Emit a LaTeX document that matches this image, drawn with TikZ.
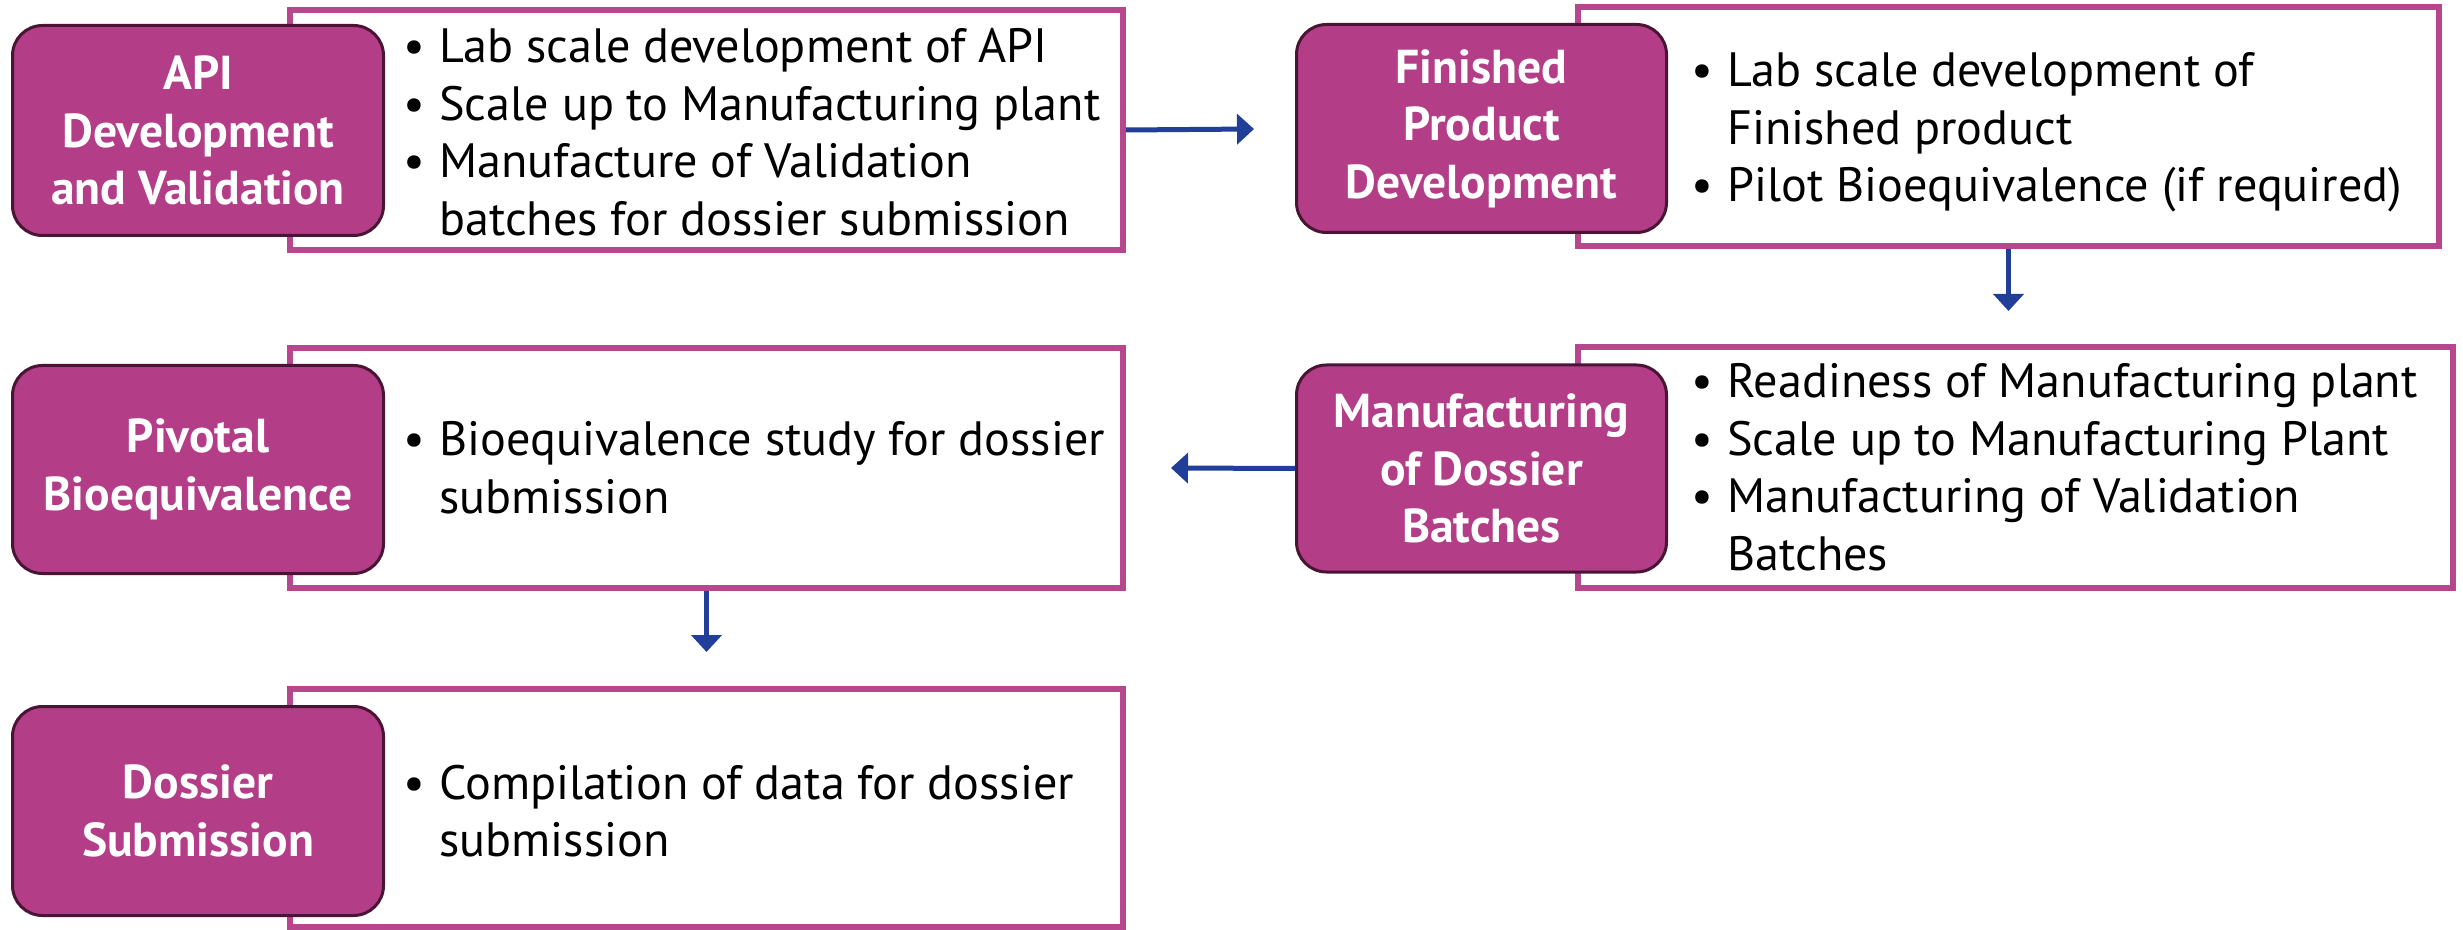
\documentclass[tikz,border=0pt]{standalone}
\usepackage{fontspec}
\setmainfont{PT Sans}
\usetikzlibrary{arrows.meta}
\definecolor{pfill}{HTML}{B33D86}
\definecolor{pborder}{HTML}{4A1535}
\definecolor{wborder}{HTML}{B8468C}
\definecolor{arrowblue}{HTML}{213F99}
\newcommand\bitem[1]{\makebox[18pt][l]{\textbullet}#1\par}
\newcommand\bcont[1]{\hspace*{18pt}#1\par}
\tikzset{
 wbox/.style={draw=wborder, line width=3pt, fill=white, rectangle, inner sep=0pt},
 pbox/.style={draw=pborder, line width=1.5pt, fill=pfill, rounded corners=15pt, inner sep=0pt, text=white, font=\bfseries\fontsize{23.8}{28.75}\selectfont, align=center},
 btext/.style={anchor=base west, inner sep=0pt, font=\fontsize{24.1}{28.75}\selectfont},
 flow/.style={draw=arrowblue, line width=2.5pt, -{Triangle[length=8.5pt,width=15pt]}}
}
\begin{document}
\begin{tikzpicture}[x=0.5pt,y=-0.5pt]
\useasboundingbox (0,0) rectangle (2463,930);
% white boxes
\node[wbox, minimum width=416.5pt, minimum height=120pt] (w1) at (706.5,130) {};
\node[wbox, minimum width=430.5pt, minimum height=119.5pt] (w2) at (2008.5,126.5) {};
\node[wbox, minimum width=437.5pt, minimum height=120.5pt] (w3) at (2015.5,467.5) {};
\node[wbox, minimum width=416.5pt, minimum height=120pt] (w4) at (706.5,468) {};
\node[wbox, minimum width=416.5pt, minimum height=119pt] (w5) at (706.5,808) {};
% purple boxes
\node[pbox, minimum width=185.5pt, minimum height=105pt] (p1) at (198,130.5) {API\\Development\\and Validation};
\node[pbox, minimum width=185pt, minimum height=104pt] (p2) at (1481.5,128.5) {Finished\\Product\\Development};
\node[pbox, minimum width=185pt, minimum height=103.5pt] (p3) at (1481.5,468.5) {Manufacturing\\of Dossier\\Batches};
\node[pbox, minimum width=185.5pt, minimum height=104pt] (p4) at (198,469.5) {Pivotal\\Bioequivalence};
\node[pbox, minimum width=185.5pt, minimum height=104.5pt] (p5) at (198,811) {Dossier\\Submission};
% bullet texts
\node[btext] (t1) at (403,63) {\parbox[t]{400pt}{\bitem{Lab scale development of API}\bitem{Scale up to Manufacturing plant}\bitem{Manufacture of Validation}\bcont{batches for dossier submission}}};
\node[btext] (t2) at (1691,87) {\parbox[t]{400pt}{\bitem{Lab scale development of}\bcont{Finished product}\bitem{Pilot Bioequivalence (if required)}}};
\node[btext] (t3) at (1691,398) {\parbox[t]{400pt}{\bitem{Readiness of Manufacturing plant}\bitem{Scale up to Manufacturing Plant}\bitem{Manufacturing of Validation}\bcont{Batches}}};
\node[btext] (t4) at (403,456) {\parbox[t]{400pt}{\bitem{Bioequivalence study for dossier}\bcont{submission}}};
\node[btext] (t5) at (403,799) {\parbox[t]{400pt}{\bitem{Compilation of data for dossier}\bcont{submission}}};
% arrows
\coordinate (a1end) at (1254,129);
\coordinate (a2end) at (2008.5,311);
\coordinate (a3end) at (1171,468);
\coordinate (a4end) at (706.5,652);
\draw[flow] (w1.east) -- (a1end);
\draw[flow] (w2.south) -- (a2end);
\draw[flow] (p3.west) -- (a3end);
\draw[flow] (w4.south) -- (a4end);
\end{tikzpicture}
\end{document}
